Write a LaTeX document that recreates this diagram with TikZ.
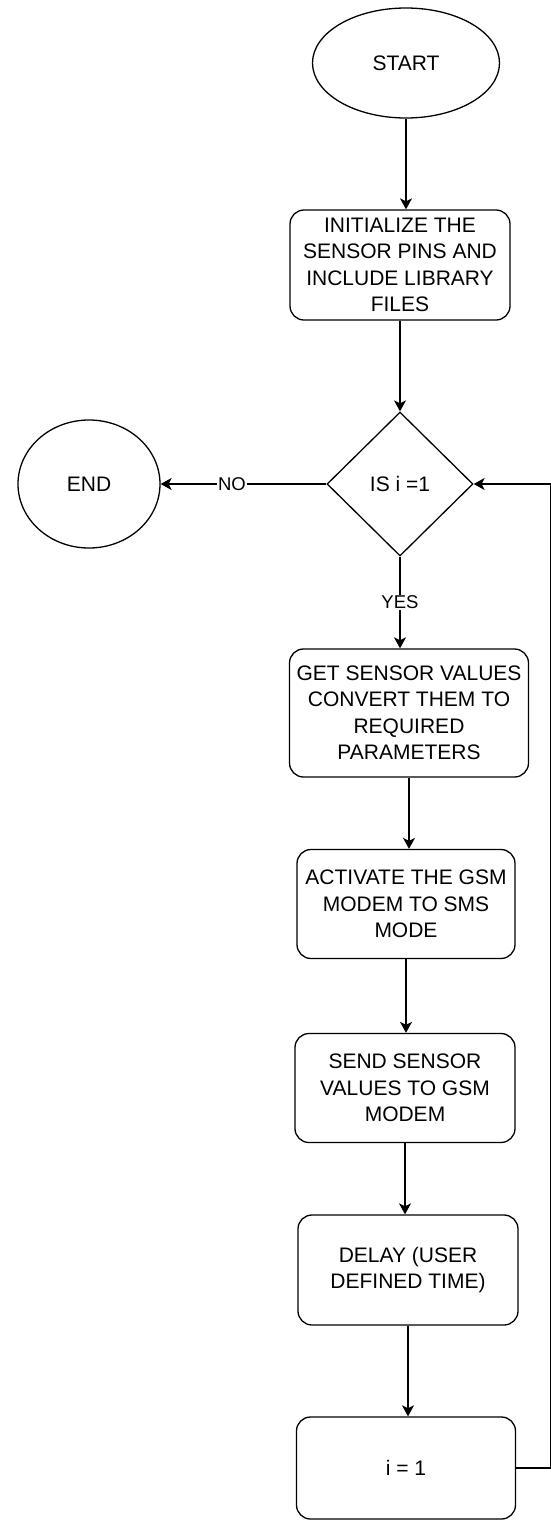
\documentclass[tikz,border=0pt]{standalone}
\usepackage{fontspec}
\setmainfont{Liberation Sans}
\usetikzlibrary{shapes.geometric,arrows.meta}

\tikzset{
    flowline/.style={line width=1.3pt, -{Stealth[length=11pt,width=12pt,inset=3pt]}},
    terminal/.style={draw, line width=1.3pt, ellipse, inner sep=0pt},
    process/.style={draw, line width=1.3pt, rounded corners=14pt, align=center, inner sep=0pt, minimum width=220pt, minimum height=110pt},
    decision/.style={draw, line width=1.3pt, diamond, inner sep=0pt, minimum width=146pt, minimum height=144pt},
    edgelabel/.style={fill=white, inner sep=1pt, font=\fontsize{18.5}{22}\selectfont}
}

\begin{document}
\begin{tikzpicture}[x=1pt, y=-1pt, font=\fontsize{21}{26.5}\selectfont]
        \useasboundingbox (0,0) rectangle (551,1521);
        \node[terminal, minimum width=187pt, minimum height=110pt] (start) at (406,63) {START};
        \node[process] (init) at (400,265) {INITIALIZE THE\\SENSOR PINS AND\\INCLUDE LIBRARY\\FILES};
        \node[decision] (check) at (400,484) {IS i =1};
        \node[terminal, minimum width=142pt, minimum height=128pt] (end) at (89,484) {END};
        \node[process, minimum width=239pt, minimum height=128pt] (read) at (409,713) {GET SENSOR VALUES\\CONVERT THEM TO\\REQUIRED\\PARAMETERS};
        \node[process, minimum width=218pt, minimum height=109pt] (modem) at (406,904) {ACTIVATE THE GSM\\MODEM TO SMS\\MODE};
        \node[process, minimum height=109pt] (send) at (405,1088) {SEND SENSOR\\VALUES TO GSM\\MODEM};
        \node[process] (wait) at (408,1270) {DELAY (USER\\DEFINED TIME)};
        \node[process, minimum width=219pt, minimum height=102pt] (set) at (406,1468) {i = 1};

        % main chain
        \draw[flowline] (start.south) -- (start.south |- init.north);
        \draw[flowline] (init.south) -- (init.south |- check.north);
        \draw[flowline] (check.west) -- node[edgelabel, pos=0.57] {NO} (end.east);
        \draw[flowline] (check.south) -- node[edgelabel] {YES} (check.south |- read.north);
        \draw[flowline] (read.south) -- (read.south |- modem.north);
        \draw[flowline] (modem.south) -- (modem.south |- send.north);
        \draw[flowline] (send.south) -- (send.south |- wait.north);
        \draw[flowline] (wait.south) -- (wait.south |- set.north);

        % loop back
        \draw[flowline] (set.east) -- ++(34,0) |- (check.east);
    \end{tikzpicture}
\end{document}
